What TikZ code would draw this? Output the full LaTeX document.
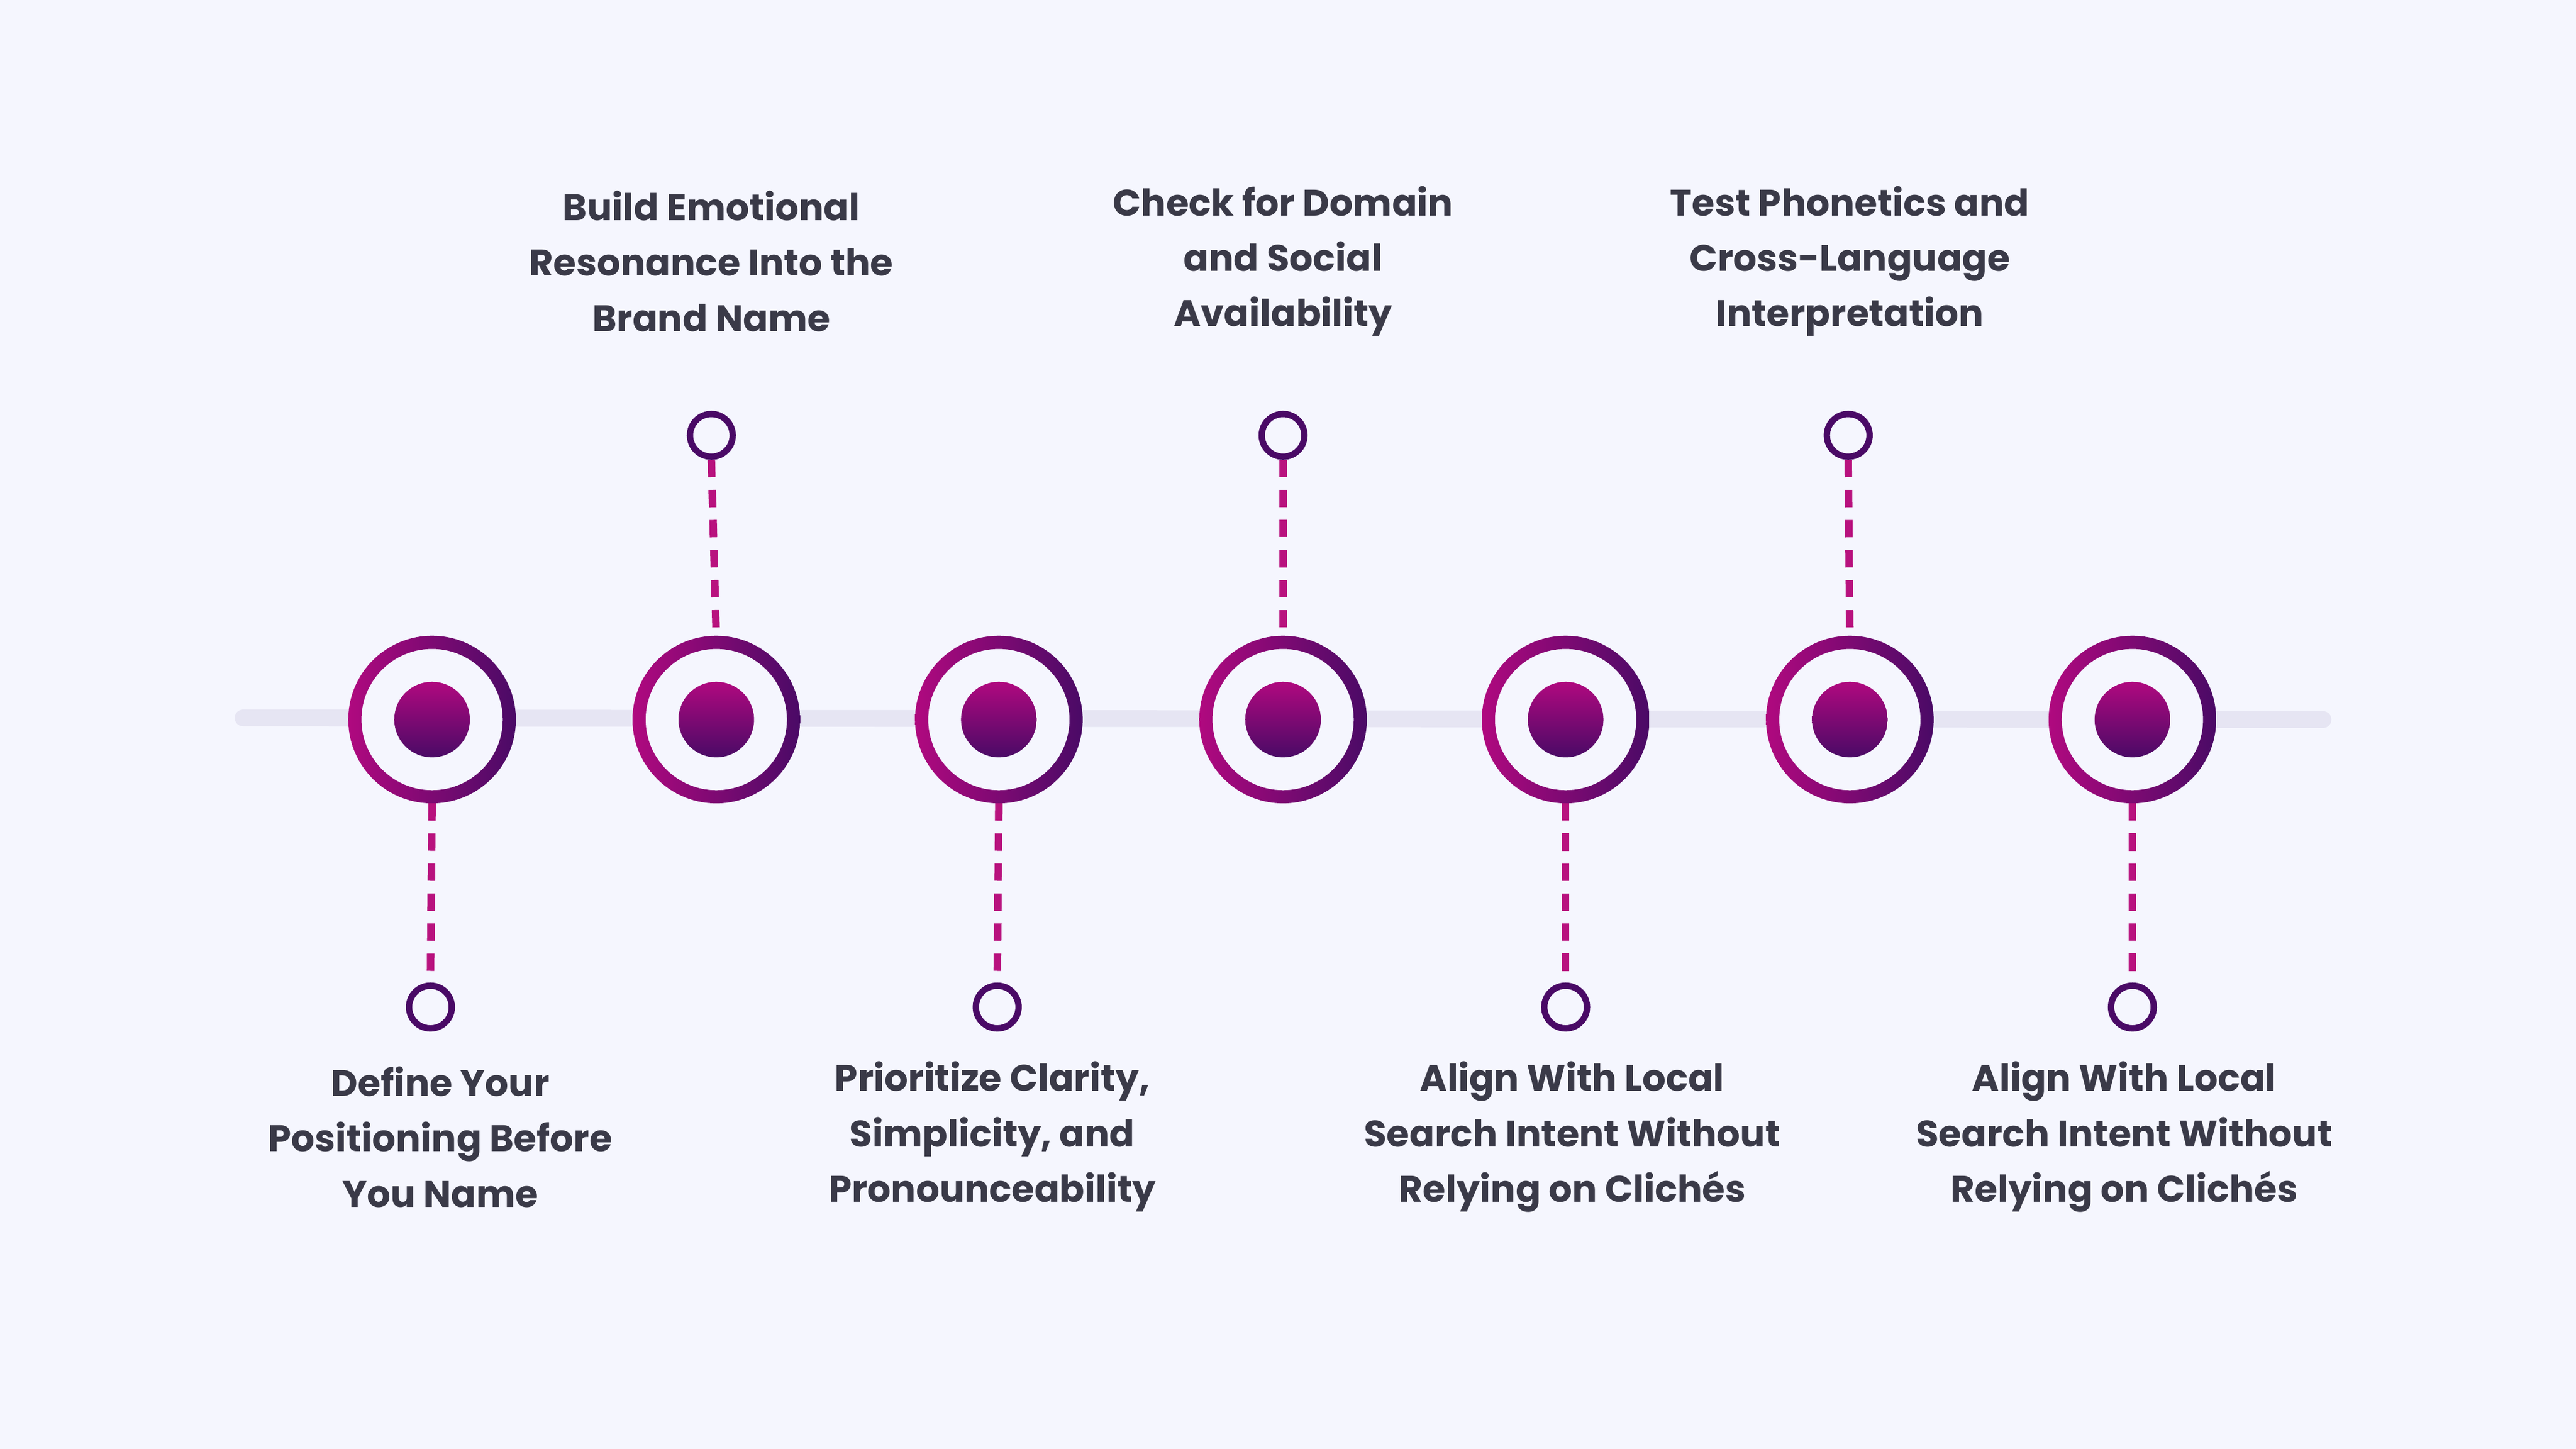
\documentclass[tikz,border=0pt]{standalone}
\usepackage{fontspec}
\setmainfont{Poppins}
\begin{document}
\begin{tikzpicture}[x=0.01cm,y=-0.01cm,
  ringc/.style={left color=ringA,right color=ringB,even odd rule},
  dotc/.style={top color=ringA,bottom color=ringB},
  dashc/.style={draw=dashcol,line width=1.3pt,dash pattern=on 3pt off 2.2pt},
  smallc/.style={circle,minimum size=0.26cm,inner sep=0pt,draw=ringB,line width=1.1pt,fill=bg},
  lbl/.style={text=txt,font=\bfseries\fontsize{6.4}{9.6}\selectfont,align=center,anchor=center}]
\definecolor{bg}{HTML}{F5F6FE}
\definecolor{ringA}{HTML}{B0097F}
\definecolor{ringB}{HTML}{4A0A66}
\definecolor{dashcol}{HTML}{B8127E}
\definecolor{track}{HTML}{E6E5F3}
\definecolor{txt}{HTML}{3A3A48}
\fill[bg] (0,0) rectangle (1568,882);
\draw[track,line width=2.9pt,line cap=round] (148,437) -- (1414,438);
\foreach \x/\n in {263/1,436/2,608/3,781/4,953/5,1126/6,1298/7}{
  \fill[bg] (\x,438) circle (50);
  \shade[ringc] (\x,438) circle (51) (\x,438) circle (43);
  \shade[dotc] (\x,438) circle (23);
  \coordinate (b\n t) at (\x,388);
  \coordinate (b\n b) at (\x,489);
}
\node[smallc] (s1) at (262,613) {};
\node[smallc] (s2) at (433,265) {};
\node[smallc] (s3) at (607,613) {};
\node[smallc] (s4) at (781,265) {};
\node[smallc] (s5) at (953,613) {};
\node[smallc] (s6) at (1125,265) {};
\node[smallc] (s7) at (1298,613) {};
\draw[dashc] (b1b) -- (s1.north);
\draw[dashc] (s2.south) -- (b2t);
\draw[dashc] (b3b) -- (s3.north);
\draw[dashc] (s4.south) -- (b4t);
\draw[dashc] (b5b) -- (s5.north);
\draw[dashc] (s6.south) -- (b6t);
\draw[dashc] (b7b) -- (s7.north);
\node[lbl] (t1) at (268,692) {Define Your\\Positioning Before\\You Name};
\node[lbl] (t2) at (433,159) {Build Emotional\\Resonance Into the\\Brand Name};
\node[lbl] (t3) at (604,692) {Prioritize Clarity,\\Simplicity, and\\Pronounceability};
\node[lbl] (t4) at (781,159) {Check for Domain\\and Social\\Availability};
\node[lbl] (t5) at (957,692) {Align With Local\\Search Intent Without\\Relying on Clichés};
\node[lbl] (t6) at (1126,159) {Test Phonetics and\\Cross-Language\\Interpretation};
\node[lbl] (t7) at (1293,692) {Align With Local\\Search Intent Without\\Relying on Clichés};
\end{tikzpicture}
\end{document}
